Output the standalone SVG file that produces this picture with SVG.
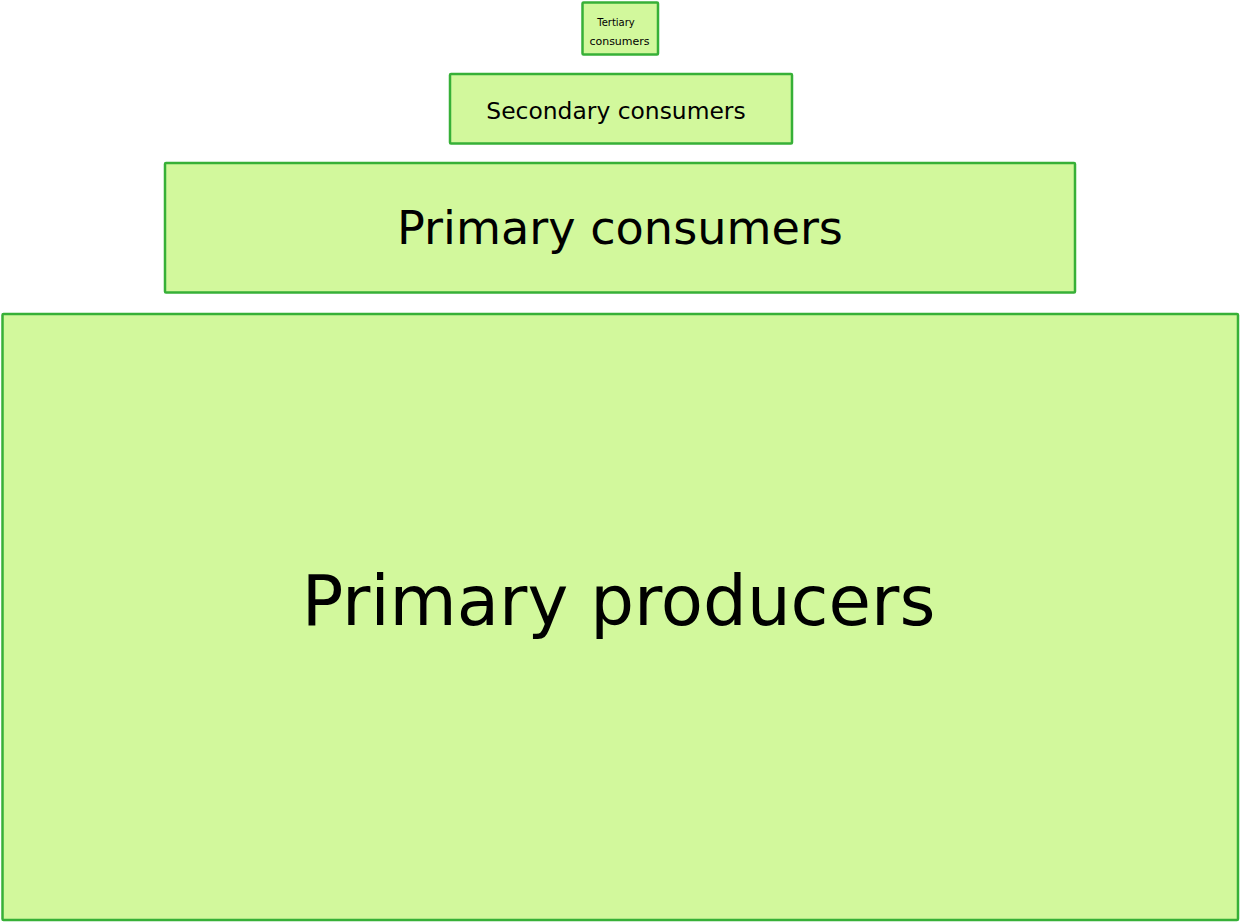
<svg xmlns="http://www.w3.org/2000/svg" width="1240" height="922" viewBox="0 0 1240 922">
<style>
.box{fill:#d2f89c;stroke:#37b037;stroke-width:2.5;}
.t{font-family:"DejaVu Sans",sans-serif;fill:#000;text-anchor:middle;}
</style>
<rect width="1240" height="922" fill="#ffffff"/>
<g id="tertiary">
<rect class="box" x="582.5" y="2.5" width="75.5" height="52" rx="1"/>
<text class="t" x="616" y="26" font-size="10">Tertiary</text>
<text class="t" x="619.5" y="45" font-size="11">consumers</text>
</g>
<g id="secondary">
<rect class="box" x="450" y="74" width="342" height="69.5" rx="1"/>
<text class="t" x="616" y="119" font-size="23.4">Secondary consumers</text>
</g>
<g id="primary-consumers">
<rect class="box" x="165" y="163" width="910" height="129.5" rx="1"/>
<text class="t" x="620" y="244" font-size="46.2">Primary consumers</text>
</g>
<g id="primary-producers">
<rect class="box" x="2.5" y="314" width="1235.5" height="606" rx="1"/>
<text class="t" x="618.5" y="625" font-size="69">Primary producers</text>
</g>
<g id="connectors"></g>
</svg>
